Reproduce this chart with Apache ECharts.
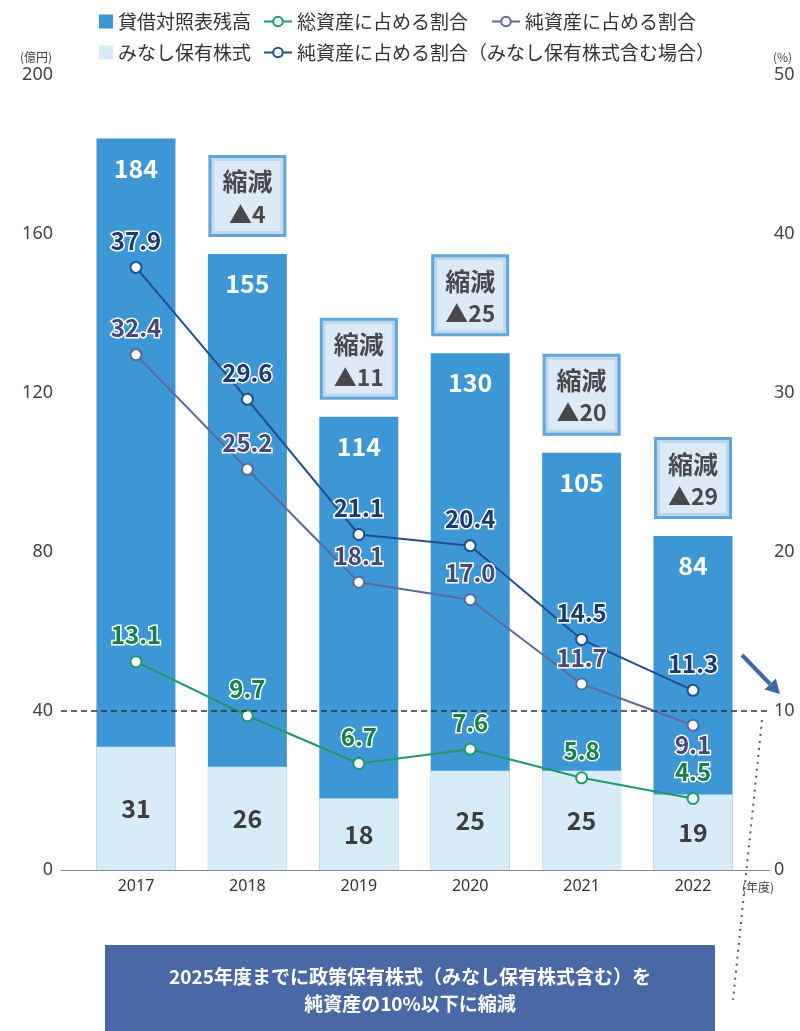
<!DOCTYPE html>
<html>
<head>
<meta charset="utf-8">
<script src="https://cdn.jsdelivr.net/npm/echarts@6/dist/echarts.min.js"></script>
<style>
html,body{margin:0;padding:0;background:#fff;}
#chart{width:800px;height:1031px;}
</style>
</head>
<body>
<div id="chart"></div>
<script>
// ---- data ----
const years = ['2017', '2018', '2019', '2020', '2021', '2022'];
const balance = [184, 155, 114, 130, 105, 84];          // 貸借対照表残高 (億円)
const deemed = [31, 26, 18, 25, 25, 19];                // みなし保有株式 (億円)
const reduction = [null, 4, 11, 25, 20, 29];            // 縮減 ▲
const ratioTotalAssets = [13.1, 9.7, 6.7, 7.6, 5.8, 4.5];
const ratioNetAssets = [32.4, 25.2, 18.1, 17.0, 11.7, 9.1];
const ratioNetInclDeemed = [37.9, 29.6, 21.1, 20.4, 14.5, 11.3];
const targetRatio = 10;
const names = {
  bal: '貸借対照表残高',
  deemed: 'みなし保有株式',
  total: '総資産に占める割合',
  net: '純資産に占める割合',
  netIncl: '純資産に占める割合（みなし保有株式含む場合）'
};
const units = {left: '(億円)', right: '(%)', x: '(年度)'};
const noteLines = ['2025年度までに政策保有株式（みなし保有株式含む）を', '純資産の10%以下に縮減'];

const pair = arr => arr.map((v, i) => [i, v]);
const FONT = '"Noto Sans CJK JP", "Noto Sans", sans-serif';
const AXFONT = '"Noto Sans", "DejaVu Sans", sans-serif';
const C = {
  bar: '#3d97d4', light: '#d8ebf8',
  navy: '#1f4f8e', navyText: '#1b3a6e',
  net: '#5a6a9c', netText: '#44497a',
  green: '#1e9a6a', greenText: '#17804a'
};

const chart = echarts.init(document.getElementById('chart'), null, {renderer: 'canvas'});

function lineLabel(color) {
  return {
    show: true, position: 'top', distance: 8,
    fontFamily: FONT, fontSize: 24, fontWeight: 'bold',
    color: color, textBorderColor: '#fff', textBorderWidth: 3,
    formatter: p => p.value[1].toFixed(1)
  };
}
function legendBase(left, top, data, iw, ih) {
  return {
    left: left, top: top, data: data, itemWidth: iw, itemHeight: ih, itemGap: 10,
    textStyle: {fontFamily: FONT, fontSize: 19, color: '#333'},
    selectedMode: false
  };
}

const option = {
  animation: false,
  textStyle: {fontFamily: FONT},
  legend: [
    legendBase(94, 7, [{name: names.bal, icon: 'rect'}], 14, 14),
    legendBase(258, 7, [names.total], 28, 12),
    legendBase(486, 7, [names.net], 28, 12),
    legendBase(94, 38, [{name: names.deemed, icon: 'rect'}], 14, 14),
    legendBase(258, 38, [names.netIncl], 28, 12)
  ],
  grid: {left: 61, right: 30, top: 75, bottom: 161, outerBoundsMode: 'none'},
  xAxis: {
    type: 'value', min: -0.673, max: 5.691,
    axisLine: {show: true, onZero: false, lineStyle: {color: '#8a8a8a', width: 1}},
    axisTick: {show: false},
    splitLine: {show: false},
    axisLabel: {
      customValues: years.map((_, i) => i),
      formatter: v => years[Math.round(v)] || '',
      fontFamily: AXFONT, fontSize: 16, color: '#333', margin: 8
    }
  },
  yAxis: [
    {
      type: 'value', min: 0, max: 200, interval: 40,
      axisLine: {show: false}, axisTick: {show: false}, splitLine: {show: false},
      axisLabel: {fontFamily: AXFONT, fontSize: 18, color: '#444', margin: 8}
    },
    {
      type: 'value', min: 0, max: 50, interval: 10,
      axisLine: {show: false}, axisTick: {show: false}, splitLine: {show: false},
      axisLabel: {fontFamily: AXFONT, fontSize: 18, color: '#444', margin: 4}
    }
  ],
  series: [
    {
      name: names.bal, type: 'bar', data: pair(balance), barWidth: 79, barGap: '-100%',
      itemStyle: {color: C.bar},
      label: {show: true, position: 'insideTop', distance: 17, color: '#fff',
        fontFamily: FONT, fontSize: 25, fontWeight: 'bold', formatter: p => p.value[1]},
      z: 2
    },
    {
      name: names.deemed, type: 'bar', data: pair(deemed), barWidth: 79, barGap: '-100%',
      itemStyle: {color: C.light},
      label: {show: true, position: 'inside', color: '#3d3d3d',
        fontFamily: FONT, fontSize: 25, fontWeight: 'bold', formatter: p => p.value[1]},
      z: 2
    },
    {
      name: 'reduction', type: 'scatter', symbolSize: 0, z: 5,
      data: balance.map((v, i) => reduction[i] == null ? null : {value: [i, v], red: reduction[i]}).filter(d => d),
      label: {
        show: true, position: 'top', distance: 20,
        backgroundColor: '#d5e3f3', borderColor: '#3a8fd1', borderWidth: 3,
        width: 72, align: 'center', padding: [7, 0, 5, 0],
        formatter: p => '{a|縮減}\n{b|▲' + p.data.red + '}',
        rich: {
          a: {fontFamily: FONT, fontSize: 25, fontWeight: 'bold', color: '#222', lineHeight: 34, align: 'center'},
          b: {fontFamily: FONT, fontSize: 23, fontWeight: 'bold', color: '#222', lineHeight: 30, align: 'center'}
        }
      },
      tooltip: {show: false}
    },
    {
      name: names.total, type: 'line', yAxisIndex: 1, data: pair(ratioTotalAssets), z: 4,
      symbol: 'circle', symbolSize: 11,
      lineStyle: {color: C.green, width: 2},
      itemStyle: {color: '#fff', borderColor: C.green, borderWidth: 2},
      label: lineLabel(C.greenText),
      markLine: {
        silent: true, symbol: 'none', label: {show: false},
        lineStyle: {color: '#333', type: [6, 4], width: 1.5},
        data: [{yAxis: targetRatio}]
      }
    },
    {
      name: names.net, type: 'line', yAxisIndex: 1, z: 4,
      data: ratioNetAssets.map((v, i) => i === ratioNetAssets.length - 1 ? {value: [i, v], label: {position: 'bottom', distance: 1}} : {value: [i, v]}),
      symbol: 'circle', symbolSize: 11,
      lineStyle: {color: C.net, width: 2},
      itemStyle: {color: '#fff', borderColor: C.net, borderWidth: 2},
      label: lineLabel(C.netText)
    },
    {
      name: names.netIncl, type: 'line', yAxisIndex: 1, data: pair(ratioNetInclDeemed), z: 4,
      symbol: 'circle', symbolSize: 11,
      lineStyle: {color: C.navy, width: 2},
      itemStyle: {color: '#fff', borderColor: C.navy, borderWidth: 2},
      label: lineLabel(C.navyText)
    }
  ],
  graphic: [
    {type: 'text', x: 52, y: 57, style: {text: units.left, fill: '#444', font: '12px ' + FONT, textAlign: 'right', textVerticalAlign: 'middle'}},
    {type: 'text', x: 773, y: 57, style: {text: units.right, fill: '#444', font: '12px ' + FONT, textAlign: 'left', textVerticalAlign: 'middle'}},
    {type: 'text', x: 758, y: 887, style: {text: units.x, fill: '#444', font: '12px ' + FONT, textAlign: 'center', textVerticalAlign: 'middle'}},
    {type: 'rect', shape: {x: 105, y: 945, width: 610, height: 86}, style: {fill: '#4a68a6'}, z: 10},
    {type: 'text', x: 410, y: 977, style: {text: noteLines[0], fill: '#fff', font: 'bold 19px ' + FONT, textAlign: 'center', textVerticalAlign: 'middle'}, z: 11},
    {type: 'text', x: 410, y: 1004, style: {text: noteLines[1], fill: '#fff', font: 'bold 19px ' + FONT, textAlign: 'center', textVerticalAlign: 'middle'}, z: 11},
    {type: 'polyline', shape: {points: [[762, 720], [733, 1000]]}, style: {stroke: '#4a5a8a', lineWidth: 2, lineDash: [2, 5], fill: null}, z: 10},
    {type: 'polyline', shape: {points: [[742, 655], [770, 684]]}, style: {stroke: '#3c68a8', lineWidth: 4, fill: null}, z: 10},
    {type: 'polygon', shape: {points: [[780, 694], [764.5, 689.6], [775.9, 678.4]]}, style: {fill: '#3c68a8'}, z: 10}
  ]
};
chart.setOption(option);
</script>
</body>
</html>
